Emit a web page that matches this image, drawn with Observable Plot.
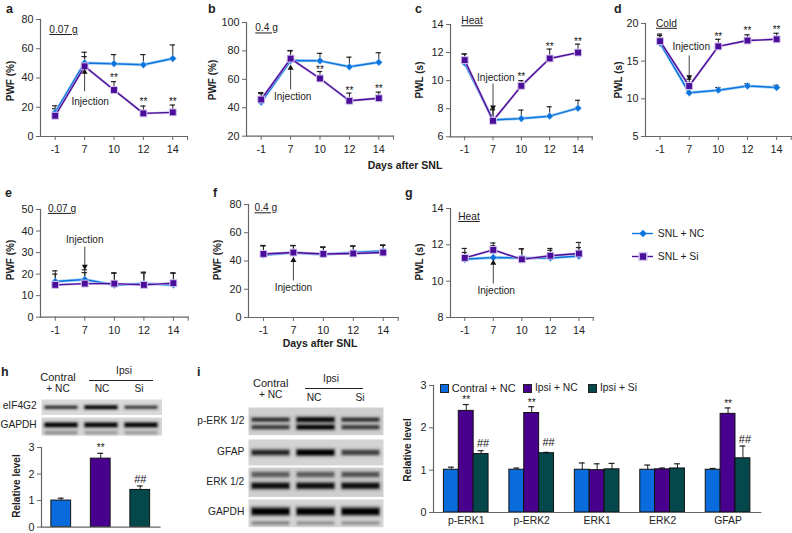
<!DOCTYPE html>
<html><head><meta charset="utf-8">
<script src="https://cdn.jsdelivr.net/npm/d3@7"></script>
<script src="https://cdn.jsdelivr.net/npm/@observablehq/plot@0.6"></script>
<style>
html,body{margin:0;padding:0;background:#fff}
#root{position:relative;width:792px;height:533px;overflow:hidden;background:#fff;font-family:"Liberation Sans",Arial,sans-serif;color:#222}
.t{position:absolute;white-space:nowrap;line-height:1;font-size:10.2px}
.ul text{text-decoration:underline}
svg{overflow:visible}
</style></head><body><div id="root"></div>
<script>
// ---------- data ----------
const days = ["-1","7","10","12","14"];
const seriesNames = ["SNL + NC","SNL + Si"];
const blue = "#0a74dc", purple = "#4a0e9a";

const aNC=[16.5,50.3,49.8,49,53.3], aNCe=[21,57.6,56,56,62.6], aSi=[14.2,48,31.8,15.8,16.5], aSie=[19,54.6,37.5,20.8,21.5];
const bNC=[44,73.2,73,68.8,72], bNCe=[50,80,78.3,75.6,78.7], bSi=[45.8,74.6,60.6,44.9,46.7], bSie=[50.7,80.3,65.5,50.3,51];
const cNC=[11.25,7.2,7.3,7.47,8.04], cNCe=[11.9,7.92,7.9,8.14,8.6], cSi=[11.46,7.14,9.63,11.58,12], cSie=[11.9,7.97,10,12.25,12.6];
const dNC=[17.4,10.8,11.15,11.7,11.5], dNCe=[18.4,11.3,11.5,12,11.8], dSi=[17.65,11.7,16.96,17.74,17.9], dSie=[18.6,12.6,17.9,18.5,18.7];
const eNC=[16.6,17.5,14.9,15.6,15], eNCe=[21.5,22,20.6,20.9,20.6], eSi=[15,15.6,15.6,15,15.8], eSie=[20,20.7,20.4,20.5,20.4];
const fNC=[44.3,45.8,44.6,46,47], fNCe=[51,51,50,50.7,51.4], fSi=[45,46,45,45.3,46], fSie=[50.6,50.8,49.6,50.4,51];
const gNC=[11.2,11.3,11.27,11.28,11.38], gNCe=[11.58,11.95,11.78,11.7,11.85], gSi=[11.28,11.72,11.2,11.4,11.52], gSie=[11.8,12.1,11.78,11.8,12.13];

const hGroups=["Contral + NC","Ipsi + NC","Ipsi + Si"];
const groupColors=["#0a6cdc","#4a008f","#05484c"];
const hValues=[1,2.58,1.4], hErr=[1.09,2.78,1.55];

const iTargets=["p-ERK1","p-ERK2","ERK1","ERK2","GFAP"];
const iControl=[1.01,1.01,1.01,1.01,1.01], iControlErr=[1.07,1.05,1.17,1.12,1.04];
const iIpsiNC=[2.4,2.35,1.0,1.02,2.33], iIpsiNCErr=[2.55,2.5,1.15,1.05,2.47];
const iIpsiSi=[1.38,1.4,1.02,1.04,1.28], iIpsiSiErr=[1.46,1.42,1.16,1.15,1.57];

const lanes=["Contral + NC","Ipsi NC","Ipsi Si"];
const eIF4G2Band=[.7,1,.65], gapdhHBand=[1,1,1], gapdhHFaint=[.25,.2,.2];
const pErkUpper=[.7,1,.7], pErkLower=[.65,1,.65], gfapBand=[.75,1,.6];
const erkUpper=[.45,.45,.5], erkLower=[.9,.9,.9], gapdhIBand=[1,1,1], gapdhIFaint=[.3,.25,.25];

// ---------- helpers ----------
const root=document.getElementById("root");
const font='"Liberation Sans",Arial,sans-serif';
const axisC="#666", inkC="#222";
const fs=10.8;
function place(n,l,t){n.style.position="absolute";n.style.left=l+"px";n.style.top=t+"px";n.style.background="transparent";root.append(n);return n;}
function txt(x,y,s,o={}){
  const d=document.createElement("div");d.className="t";d.textContent=s;
  const anchor=o.anchor||"start";
  const tx=anchor==="middle"?"-50%":anchor==="end"?"-100%":"0";
  d.style.left=x+"px";d.style.top=y+"px";d.style.transform=`translate(${tx},-50%)`;
  if(o.rotate) d.style.transform="translate(-50%,-50%) rotate(-90deg)";
  if(o.size)d.style.fontSize=o.size+"px";
  if(o.bold)d.style.fontWeight="bold";
  root.append(d);
}
const rows=(NC,NCe,Si,Sie)=>[[NC,NCe,seriesNames[0]],[Si,Sie,seriesNames[1]]]
  .flatMap(([v,e,s])=>v.map((y,i)=>({i,day:days[i],y,e:e[i],s})));

function linePanel(p){
  const ml=30,mr=2,mt=16,mb=26;
  const data=rows(...p.series);
  const one=s=>data.filter(d=>d.s===s);
  const [nc,si]=seriesNames.map(one);
  const ann=p.inject;
  const up=ann.y2>ann.y1;
  const chart=Plot.plot({
    width:ml+mr+p.r-p.l,height:mt+mb+p.b-p.t,
    marginLeft:ml,marginRight:mr,marginTop:mt,marginBottom:mb,
    style:{fontFamily:font,fontSize:fs+"px",color:inkC,background:"transparent"},
    x:{domain:[-.5,4.5],axis:null},
    y:{domain:p.domain,axis:null},
    marks:[
      Plot.ruleX(data,{x:"i",y1:"y",y2:"e",stroke:inkC,strokeWidth:1}),
      Plot.ruleY(data,{y:"e",x1:d=>d.i-.09,x2:d=>d.i+.09,stroke:inkC,strokeWidth:1.2}),
      Plot.line(nc,{x:"i",y:"y",stroke:"#a9d2f6",strokeWidth:3}),
      Plot.line(nc,{x:"i",y:"y",stroke:blue,strokeWidth:1.5}),
      Plot.dot(nc,{x:"i",y:"y",symbol:"diamond2",r:3.3,fill:blue,stroke:"#a9d2f6",strokeWidth:.6}),
      Plot.line(si,{x:"i",y:"y",stroke:"#c9b4e6",strokeWidth:2.4}),
      Plot.line(si,{x:"i",y:"y",stroke:purple,strokeWidth:1.4}),
      Plot.dot(si,{x:"i",y:"y",symbol:"square",r:3.9,fill:purple,stroke:"#d6c6ee",strokeWidth:1}),
      Plot.text(p.stars.map((y,k)=>({k,y})).filter(d=>d.y!=null),{x:"k",y:"y",text:()=>"**",fontSize:10,dy:1.5,fill:"#111"}),
      Plot.link([ann],{x1:()=>1,x2:()=>1,y1:"y1",y2:"y2",stroke:"#444",strokeWidth:1}),
      Plot.dot([ann],{x:()=>1,y:"y2",symbol:"triangle",r:2.2,fill:"#111",rotate:up?0:180}),
      Plot.text([ann],{x:"tx",y:"ty",text:()=>"Injection",fontSize:10.1,fill:inkC}),
      Plot.text([p.tag],{x:"x",y:"y",text:"label",textAnchor:"start",fontSize:10.2,fill:inkC,className:"ul"}),
      Plot.frame({anchor:"left",stroke:axisC,strokeWidth:1.2}),
      Plot.frame({anchor:"bottom",stroke:axisC,strokeWidth:1.2}),
      Plot.axisX({anchor:"bottom",ticks:[0,1,2,3,4,4.5],tickFormat:i=>days[i]??"",tickSize:4,tickPadding:5,stroke:axisC,fill:inkC,label:null,fontSize:fs}),
      Plot.axisY({anchor:"left",ticks:p.ticks,tickFormat:d=>String(d),tickSize:4,tickPadding:3,stroke:axisC,fill:inkC,label:null,fontSize:fs})
    ]
  });
  place(chart,p.l-ml,p.t-mt);
  txt(p.lx,p.ly,p.ylabel,{rotate:true,bold:true,size:10});
}

const panels=[
 {series:[aNC,aNCe,aSi,aSie],l:40,r:187,t:19,b:136,domain:[0,80],ticks:[0,20,40,60,80],ylabel:"PWF (%)",lx:11,ly:81,
  stars:[null,null,41,24.5,24.5],inject:{y1:30.9,y2:44,tx:1.19,ty:24},tag:{x:-.2,y:73,label:"0.07 g"}},
 {series:[bNC,bNCe,bSi,bSie],l:245.7,r:392.7,t:22.3,b:136,domain:[20,100],ticks:[20,40,60,80,100],ylabel:"PWF (%)",lx:213,ly:80,
  stars:[null,null,68,52.9,54.3],inject:{y1:52.9,y2:68,tx:1.07,ty:48},tag:{x:-.2,y:96,label:"0.4 g"}},
 {series:[cNC,cNCe,cSi,cSie],l:450.3,r:592,t:23.7,b:136,domain:[6,14],ticks:[6,8,10,12,14],ylabel:"PWL (s)",lx:420,ly:80,
  stars:[null,null,10.4,12.5,12.85],inject:{y1:9.8,y2:8.1,tx:1.1,ty:10.2},tag:{x:-.12,y:14.25,label:"Heat"}},
 {series:[dNC,dNCe,dSi,dSie],l:645.3,r:791,t:23,b:136,domain:[5,20],ticks:[5,10,15,20],ylabel:"PWL (s)",lx:618.7,ly:80,
  stars:[null,null,18.5,19.2,19.4],inject:{y1:15.75,y2:12.9,tx:1.07,ty:16.86},tag:{x:-.14,y:20,label:"Cold"}},
 {series:[eNC,eNCe,eSi,eSie],l:40,r:187.7,t:209.3,b:317,domain:[0,50],ticks:[0,10,20,30,40,50],ylabel:"PWF (%)",lx:11,ly:260,
  stars:[null,null,null,null,null],inject:{y1:32.7,y2:23.5,tx:1,ty:35.8},tag:{x:-.25,y:50.4,label:"0.07 g"}},
 {series:[fNC,fNCe,fSi,fSie],l:248.3,r:398,t:204,b:317,domain:[0,80],ticks:[0,20,40,60,80],ylabel:"PWF (%)",lx:218,ly:260,
  stars:[null,null,null,null,null],inject:{y1:26.2,y2:40.5,tx:1,ty:21},tag:{x:-.3,y:77.5,label:"0.4 g"}},
 {series:[gNC,gNCe,gSi,gSie],l:450.3,r:593,t:207.7,b:316.7,domain:[8,14],ticks:[8,10,12,14],ylabel:"PWL (s)",lx:420.3,ly:262,
  stars:[null,null,null,null,null],inject:{y1:9.87,y2:11,tx:1.1,ty:9.47},tag:{x:-.23,y:13.55,label:"Heat"}}
];
panels.forEach(linePanel);

// panel letters and shared labels
[["a",6,9],["b",208,9],["c",415,9],["d",614,9],["e",5,193],["f",213,193],["g",405,193],["h",1,372],["i",197,372]]
  .forEach(([s,x,y])=>txt(x,y,s,{bold:true,size:12.5}));
txt(405,165,"Days after SNL",{anchor:"middle",bold:true,size:10.5});
txt(320,343,"Days after SNL",{anchor:"middle",bold:true,size:10.5});

// line legend
place(Plot.plot({
  width:110,height:46,margin:0,marginLeft:0,marginRight:89,
  style:{fontFamily:font,fontSize:"10.4px",color:inkC,background:"transparent"},
  x:{domain:[0,1],axis:null},
  y:{domain:seriesNames,axis:null,type:"point",padding:0,range:[11,34]},
  marks:[
    Plot.ruleY(seriesNames,{y:d=>d,x1:()=>0,x2:()=>1,stroke:d=>d===seriesNames[0]?blue:purple,strokeWidth:1.4}),
    Plot.dot([seriesNames[0]],{x:()=>.5,y:d=>d,symbol:"diamond2",r:3.4,fill:blue}),
    Plot.dot([seriesNames[1]],{x:()=>.5,y:d=>d,symbol:"square",r:4.4,fill:purple,stroke:"#d6c6ee"}),
    Plot.text(seriesNames,{x:()=>1.2,y:d=>d,text:d=>d,textAnchor:"start",fontSize:10.4,fill:inkC})
  ]
}),632,222);

// blots
function blot(l,t,w,h,strip,bg){
  const data=strip.flatMap(r=>lanes.map((lane,k)=>({lane,pos:r.pos,dark:r.values[k],thick:r.thick*(r.grow?(.7+.45*r.values[k]):1)})));
  const s=Plot.plot({
    width:w,height:h,margin:0,
    x:{domain:lanes,type:"band",padding:0,axis:null},
    y:{domain:[0,1],reverse:true,axis:null},
    opacity:{type:"identity"},
    marks:[
      Plot.frame({fill:bg,stroke:null}),
      Plot.tickY(data,{x:"lane",y:"pos",stroke:"#111",strokeOpacity:d=>d.dark*.45,strokeWidth:d=>d.thick*1.7,insetLeft:2.5,insetRight:2.5,imageFilter:"blur(1.4px)"}),
      Plot.tickY(data,{x:"lane",y:"pos",stroke:"#000",strokeOpacity:"dark",strokeWidth:"thick",insetLeft:4,insetRight:4,imageFilter:"blur(.8px)"})
    ]
  });
  place(s,l,t);
}
blot(40.7,399,120.5,15.5,[{pos:.5,values:eIF4G2Band,thick:2.6,grow:true}],"#dadada");
blot(40.7,416.7,120.5,18,[{pos:.41,values:gapdhHBand,thick:3.6},{pos:.84,values:gapdhHFaint,thick:3}],"#d6d6d6");
blot(248.3,406.7,135,27.6,[{pos:.44,values:pErkUpper,thick:3.4,grow:true},{pos:.71,values:pErkLower,thick:3.4,grow:true}],"#cfcfcf");
blot(248.3,439,135,26,[{pos:.5,values:gfapBand,thick:4.4,grow:true}],"#d4d4d4");
blot(248.3,467.3,135,29.4,[{pos:.24,values:erkUpper,thick:4.4},{pos:.62,values:erkLower,thick:5}],"#cfcfcf");
blot(248.3,499,135,27.7,[{pos:.43,values:gapdhIBand,thick:6},{pos:.85,values:gapdhIFaint,thick:3}],"#d6d6d6");

// blot labels
[["Contral",58,377],["+ NC",58,389],["Ipsi",124,371],["NC",102,389],["Si",139,389]].forEach(([s,x,y])=>txt(x,y,s,{anchor:"middle",size:s==="Contral"?11:10.2}));
[["eIF4G2",36.7,406],["GAPDH",36.7,425]].forEach(([s,x,y])=>txt(x,y,s,{anchor:"end"}));
[["Contral",270.7,382.7],["+ NC",270.7,395],["Ipsi",331,379],["NC",314,397.7],["Si",360,397.7]].forEach(([s,x,y])=>txt(x,y,s,{anchor:"middle",size:s==="Contral"?11:10.2}));
[["p-ERK 1/2",244.3,420.7],["GFAP",244.3,451.7],["ERK 1/2",244.3,481.7],["GAPDH",244.3,512.3]].forEach(([s,x,y])=>txt(x,y,s,{anchor:"end"}));
[[89.3,152.7,380],[305,362.7,388.3]].forEach(([a,b,y])=>{
  const d=document.createElement("div");
  d.style.cssText=`position:absolute;left:${a}px;top:${y}px;width:${b-a}px;height:1px;background:#222`;root.append(d);
});

// bar h
const hData=hGroups.map((g,k)=>({g,v:hValues[k],e:hErr[k]}));
place(Plot.plot({
  width:24+118.5,height:8+26+79.6,marginLeft:24,marginRight:0,marginTop:8,marginBottom:26,
  style:{fontFamily:font,fontSize:fs+"px",color:inkC,background:"transparent"},
  x:{domain:hGroups,paddingInner:.5,paddingOuter:.25,round:false,axis:null},
  y:{domain:[0,3],axis:null},
  color:{domain:hGroups,range:groupColors},
  marks:[
    Plot.ruleX(hData,{x:"g",y1:"v",y2:"e",stroke:"#222"}),
    Plot.tickY(hData,{x:"g",y:"e",stroke:"#222",insetLeft:7,insetRight:7,strokeWidth:1.2}),
    Plot.barY(hData,{x:"g",y:"v",fill:"g",stroke:"#111",strokeWidth:1}),
    Plot.text([hGroups[1]],{x:d=>d,y:()=>3.06,text:()=>"**",fontSize:10,dy:1.5,fill:"#111"}),
    Plot.text([hGroups[2]],{x:d=>d,y:()=>1.81,text:()=>"##",fontSize:11,fill:"#111"}),
    Plot.frame({anchor:"left",stroke:axisC,strokeWidth:1.2}),
    Plot.frame({anchor:"bottom",stroke:axisC,strokeWidth:1.2}),
    Plot.axisY({anchor:"left",ticks:[0,1,2,3],tickFormat:d=>String(d),tickSize:4,tickPadding:3,stroke:axisC,fill:inkC,label:null,fontSize:fs})
  ]
}),40.7-24,446.7-8);
txt(16.7,486,"Relative level",{rotate:true,bold:true,size:10});

// bar i
const iData=iTargets.flatMap((t,k)=>[
  {t,g:hGroups[0],v:iControl[k],e:iControlErr[k]},
  {t,g:hGroups[1],v:iIpsiNC[k],e:iIpsiNCErr[k]},
  {t,g:hGroups[2],v:iIpsiSi[k],e:iIpsiSiErr[k]}]);
const iStars=[{t:"p-ERK1",y:2.69},{t:"p-ERK2",y:2.63},{t:"GFAP",y:2.6}];
const iHash=[{t:"p-ERK1",y:1.62},{t:"p-ERK2",y:1.65},{t:"GFAP",y:1.73}];
place(Plot.plot({
  width:24+327.3,height:8+22+127,marginLeft:24,marginRight:0,marginTop:8,marginBottom:22,
  style:{fontFamily:font,fontSize:fs+"px",color:inkC,background:"transparent"},
  fx:{domain:iTargets,padding:0,round:false,label:null},
  x:{domain:hGroups,paddingInner:0,paddingOuter:.7,round:false,axis:null},
  y:{domain:[0,3],axis:null},
  color:{domain:hGroups,range:groupColors},
  marks:[
    Plot.ruleX(iData,{fx:"t",x:"g",y1:"v",y2:"e",stroke:"#222"}),
    Plot.tickY(iData,{fx:"t",x:"g",y:"e",stroke:"#222",insetLeft:4.5,insetRight:4.5,strokeWidth:1.2}),
    Plot.barY(iData,{fx:"t",x:"g",y:"v",fill:"g",stroke:"#111",strokeWidth:1}),
    Plot.text(iStars,{fx:"t",x:()=>hGroups[1],y:"y",text:()=>"**",fontSize:10,dy:1.5,fill:"#111"}),
    Plot.text(iHash,{fx:"t",x:()=>hGroups[2],y:"y",text:()=>"##",fontSize:11,dx:2,fill:"#111"}),
    Plot.frame({anchor:"bottom",stroke:axisC,strokeWidth:1.2}),
    Plot.frame({anchor:"left",facetAnchor:"left",stroke:axisC,strokeWidth:1.2}),
    Plot.axisFx({anchor:"bottom",tickSize:0,tickPadding:4,fill:inkC,label:null,fontSize:10.4}),
    Plot.axisY({anchor:"left",ticks:[0,1,2,3],tickFormat:d=>String(d),tickSize:4,tickPadding:3,stroke:axisC,fill:inkC,label:null,fontSize:fs})
  ]
}),432.7-24,385-8);
txt(408,450,"Relative level",{rotate:true,bold:true,size:10});

// bar legend
[[440,451.7],[523,535],[588,600]].forEach(([sx,tx],k)=>{
  const d=document.createElement("div");
  d.style.cssText=`position:absolute;left:${sx}px;top:383.5px;width:7px;height:7px;border:1px solid #222;background:${groupColors[k]}`;
  root.append(d);
  txt(tx,387.7,hGroups[k],{size:k===0?11:10.3});
});
</script></body></html>
